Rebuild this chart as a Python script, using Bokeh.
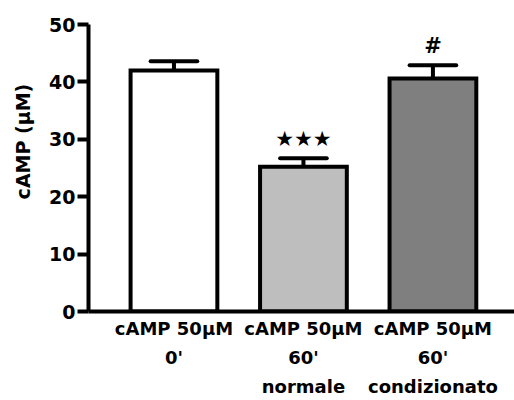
from bokeh.plotting import figure
from bokeh.models import Range1d, FixedTicker, ColumnDataSource
from bokeh.core.properties import value
from bokeh.embed import file_html
from bokeh.resources import INLINE

# ---- data ----
line1 = ["cAMP 50µM", "cAMP 50µM", "cAMP 50µM"]
line2 = ["0'", "60'", "60'"]
line3 = ["", "normale", "condizionato"]
means = [42.0, 25.2, 40.6]
sems = [1.6, 1.5, 2.3]
colors = ["#ffffff", "#bebebe", "#7f7f7f"]
marks = ["", "★★★", "#"]
yticks = [0, 10, 20, 30, 40, 50]
ytitle = "cAMP (µM)"

FONT = "DejaVu Sans"
xs = list(range(len(means)))

p = figure(width=514, height=400, output_backend="svg", toolbar_location=None,
           x_range=Range1d(-0.66, 2.63), y_range=Range1d(0, 50),
           min_border_left=88, min_border_top=24, min_border_right=0,
           min_border_bottom=88)
p.outline_line_color = None
p.xgrid.visible = False
p.ygrid.visible = False
p.background_fill_color = "white"
p.border_fill_color = "white"

src = ColumnDataSource(dict(x=xs, top=means, color=colors,
                            hi=[m + s for m, s in zip(means, sems)],
                            ty=[m + s + 3.4 for m, s in zip(means, sems)],
                            mark=marks))
p.vbar(x="x", top="top", bottom=0, width=0.67, fill_color="color",
       line_color="black", line_width=4, line_join="miter", source=src)
p.segment(x0="x", y0="top", x1="x", y1="hi", line_color="black", line_width=4, source=src)
cap = 0.18
p.segment(x0=[x - cap for x in xs], y0=src.data["hi"], x1=[x + cap for x in xs],
          y1=src.data["hi"], line_color="black", line_width=4, line_cap="round")
p.text(x="x", y="ty", text="mark", source=src, text_align="center",
       text_baseline="middle", text_font=value(FONT), text_font_size="21px",
       text_font_style="bold", text_color="black")

# y axis
ya = p.yaxis[0]
ya.ticker = FixedTicker(ticks=yticks)
ya.axis_line_width = 4
ya.major_tick_line_width = 4
ya.major_tick_out = 11
ya.major_tick_in = 0
ya.minor_tick_line_color = None
ya.major_label_standoff = 2
ya.major_label_text_font = FONT
ya.major_label_text_font_style = "bold"
ya.major_label_text_font_size = "19px"
ya.major_label_text_color = "black"
ya.axis_label = "\u00a0" * 8 + ytitle
ya.axis_label_standoff = 12
ya.axis_label_text_font = FONT
ya.axis_label_text_font_style = "bold"
ya.axis_label_text_font_size = "19px"
ya.axis_label_text_color = "black"

# x axis with multi-line tick labels
labels = ["\n".join(t for t in (a, b, c) if t) for a, b, c in zip(line1, line2, line3)]
xa = p.xaxis[0]
xa.ticker = FixedTicker(ticks=xs)
xa.major_label_overrides = {i: t for i, t in enumerate(labels)}
xa.major_tick_line_color = None
xa.minor_tick_line_color = None
xa.major_tick_out = 0
xa.major_tick_in = 0
xa.major_label_standoff = 6
xa.major_label_text_font = FONT
xa.major_label_text_font_style = "bold"
xa.major_label_text_font_size = "18px"
xa.major_label_text_line_height = 1.4
xa.major_label_text_color = "black"
xa.axis_line_width = 4

open("out.html", "w").write(file_html(p, INLINE))
